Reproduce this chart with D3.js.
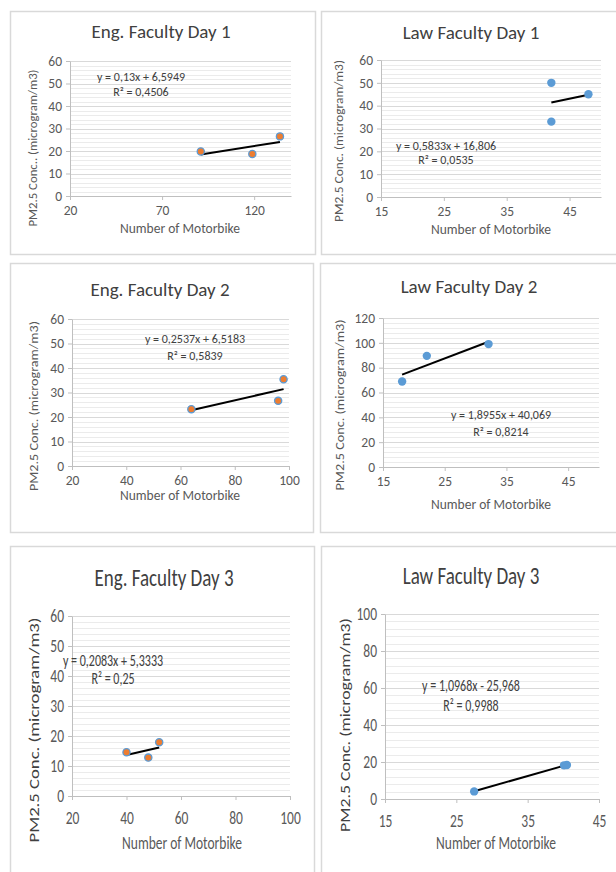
<!DOCTYPE html>
<html lang="en">
<head>
  <meta charset="utf-8">
  <title>PM2.5 Conc. vs Number of Motorbike</title>
  <style>
    body {
      margin: 0;
      background: #fff;
    }

    svg {
      display: block;
    }

    text {
      font-family: Carlito, Calibri, 'Liberation Sans', Arial, sans-serif;
    }
  </style>
</head>

<body>
  <svg id="chart" width="616" height="872"></svg>
  <script src="https://cdnjs.cloudflare.com/ajax/libs/d3/7.8.5/d3.min.js"></script>
  <script>
    //
    // Data
    //

    var titles = ['Eng. Faculty Day 1', 'Law Faculty Day 1', 'Eng. Faculty Day 2',
      'Law Faculty Day 2', 'Eng. Faculty Day 3', 'Law Faculty Day 3']

    var engDay1X = [91, 119, 134]
    var engDay1Y = [19.8, 18.7, 26.5]
    var lawDay1X = [42.1, 42.1, 48]
    var lawDay1Y = [50, 33, 45]
    var engDay2X = [64, 96, 98]
    var engDay2Y = [23.2, 26.6, 35.4]
    var lawDay2X = [18.1, 22.1, 32.1]
    var lawDay2Y = [68.8, 89.5, 99]
    var engDay3X = [40, 48, 52]
    var engDay3Y = [14.6, 12.8, 17.9]
    var lawDay3X = [27.5, 40.1, 40.5]
    var lawDay3Y = [4.1, 18.2, 18.4]

    // trendline coefficients
    var slopes = [0.13, 0.5833, 0.2537, 1.8955, 0.2083, 1.0968]
    var intercepts = [6.5949, 16.806, 6.5183, 40.069, 5.3333, -25.968]
    var equations = ['y = 0,13x + 6,5949', 'y = 0,5833x + 16,806', 'y = 0,2537x + 6,5183',
      'y = 1,8955x + 40,069', 'y = 0,2083x + 5,3333', 'y = 1,0968x - 25,968']
    var rSquared = ['R² = 0,4506', 'R² = 0,0535', 'R² = 0,5839',
      'R² = 0,8214', 'R² = 0,25', 'R² = 0,9988']

    // axes
    var xDomains = [[20, 140], [15, 50], [20, 100], [15, 50], [20, 100], [15, 45]]
    var xTicks = [[20, 70, 120], [15, 25, 35, 45], [20, 40, 60, 80, 100],
      [15, 25, 35, 45], [20, 40, 60, 80, 100], [15, 25, 35, 45]]
    var yDomains = [[0, 60], [0, 60], [0, 60], [0, 120], [0, 60], [0, 100]]
    var yTicks = [[0, 10, 20, 30, 40, 50, 60], [0, 10, 20, 30, 40, 50, 60],
      [0, 10, 20, 30, 40, 50, 60], [0, 20, 40, 60, 80, 100, 120],
      [0, 10, 20, 30, 40, 50, 60], [0, 20, 40, 60, 80, 100]]
    var yMinorStep = [2, 2, 2, 4, 2, 4]

    var xLabel = 'Number of Motorbike'
    var yLabels = ['PM2.5 Conc.. (microgram/m3)', 'PM2.5 Conc. (microgram/m3)',
      'PM2.5 Conc. (microgram/m3)', 'PM2.5 Conc. (microgram/m3)',
      'PM2.5 Conc. (microgram/m3)', 'PM2.5 Conc. (microgram/m3)']

    var series = [
      { x: engDay1X, y: engDay1Y, kind: 'eng' },
      { x: lawDay1X, y: lawDay1Y, kind: 'law' },
      { x: engDay2X, y: engDay2Y, kind: 'eng' },
      { x: lawDay2X, y: lawDay2Y, kind: 'law' },
      { x: engDay3X, y: engDay3Y, kind: 'eng' },
      { x: lawDay3X, y: lawDay3Y, kind: 'law' }
    ]

    //
    // Layout (pixels); sy = vertical stretch of the text in that row
    //

    var frames = [
      { box: [10, 11, 305, 243], plot: [70, 61, 291, 196], title: [161, 33], ylab: [34, 148, 157], xlab: [180, 230], eq: [141, 78, 93], sy: 1 },
      { box: [321, 11, 300, 243], plot: [381, 60, 601, 197], title: [471, 34], ylab: [340, 141, 162], xlab: [491, 231], eq: [446, 147, 161], sy: 1 },
      { box: [10, 263, 303, 269], plot: [72, 319, 289, 466], title: [160, 291], ylab: [35, 406, 170], xlab: [180, 497], eq: [195, 340, 357], sy: 1 },
      { box: [320, 263, 300, 269], plot: [383, 318, 599, 467], title: [469, 288], ylab: [341, 405, 171], xlab: [491, 506], eq: [501, 416, 433], sy: 1 },
      { box: [10, 546, 304, 340], plot: [72, 616, 290, 796], title: [164, 580], ylab: [35, 730, 225], xlab: [182, 845], eq: [113, 662, 680], sy: 1.3 },
      { box: [321, 546, 300, 340], plot: [385, 614, 599, 799], title: [471, 578], ylab: [346, 725, 214], xlab: [496, 845], eq: [471, 687, 707], sy: 1.3 }
    ]

    // colors
    var colorOrange = '#ED7D31'
    var colorBlue = '#5B9BD5'
    var colorAxis = '#bfbfbf'
    var colorMajor = '#d9d9d9'
    var colorMinor = '#ebebeb'
    var colorText = '#595959'
    var colorTitle = '#404040'

    var svg = d3.select('#chart')

    function label(g, px, py, txt, size, sy, color) {
      return g.append('text')
        .attr('transform', 'translate(' + px + ',' + py + ') scale(1,' + sy + ')')
        .attr('text-anchor', 'middle')
        .attr('dominant-baseline', 'middle')
        .attr('fill', color)
        .style('font-size', size + 'px')
        .text(txt)
    }

    //
    // Draw each panel
    //

    frames.forEach(function(f, i) {
      var g = svg.append('g')
      var sy = f.sy
      var s = series[i]

      g.append('rect')
        .attr('x', f.box[0] + 0.5).attr('y', f.box[1] + 0.5)
        .attr('width', f.box[2]).attr('height', f.box[3])
        .attr('fill', '#fff')
        .attr('stroke', colorMajor)
        .attr('stroke-width', 1.5)

      var x = d3.scaleLinear().domain(xDomains[i]).range([f.plot[0], f.plot[2]])
      var y = d3.scaleLinear().domain(yDomains[i]).range([f.plot[3], f.plot[1]])

      // minor gridlines
      var minor = d3.range(yDomains[i][0], yDomains[i][1] + 0.001, yMinorStep[i])
        .filter(function(v) { return yTicks[i].indexOf(v) < 0 })
      g.selectAll('.minor').data(minor).enter().append('line')
        .attr('x1', f.plot[0]).attr('x2', f.plot[2])
        .attr('y1', function(d) { return Math.round(y(d)) + 0.5 })
        .attr('y2', function(d) { return Math.round(y(d)) + 0.5 })
        .attr('stroke', colorMinor)

      // major gridlines
      g.selectAll('.major').data(yTicks[i].slice(1)).enter().append('line')
        .attr('x1', f.plot[0]).attr('x2', f.plot[2])
        .attr('y1', function(d) { return Math.round(y(d)) + 0.5 })
        .attr('y2', function(d) { return Math.round(y(d)) + 0.5 })
        .attr('stroke', colorMajor)

      // axes
      var yAxis = g.append('g')
        .attr('transform', 'translate(' + f.plot[0] + ',0)')
        .call(d3.axisLeft(y).tickValues(yTicks[i]).tickSize(4).tickSizeOuter(0).tickPadding(4))
      var xAxis = g.append('g')
        .attr('transform', 'translate(0,' + f.plot[3] + ')')
        .call(d3.axisBottom(x).tickValues(xTicks[i]).tickSize(4).tickSizeOuter(0).tickPadding(4))

      ;[yAxis, xAxis].forEach(function(a) {
        a.select('.domain').attr('stroke', colorAxis)
        a.selectAll('.tick line').attr('stroke', colorAxis)
        a.selectAll('.tick text')
          .attr('fill', colorText)
          .style('font-size', '13.5px')
      })
      yAxis.selectAll('.tick text').attr('transform', 'scale(1,' + sy + ')')
      xAxis.selectAll('.tick text').attr('transform', 'scale(1,' + sy + ')')
        .attr('y', sy > 1 ? 12 : 9)

      // trendline
      var x0 = d3.min(s.x)
      var x1 = d3.max(s.x)
      g.append('line')
        .attr('x1', x(x0)).attr('y1', y(slopes[i] * x0 + intercepts[i]))
        .attr('x2', x(x1)).attr('y2', y(slopes[i] * x1 + intercepts[i]))
        .attr('stroke', '#000')
        .attr('stroke-width', 2)

      // points
      g.selectAll('.pt').data(s.x).enter().append('circle')
        .attr('cx', function(d) { return x(d) })
        .attr('cy', function(d, j) { return y(s.y[j]) })
        .attr('r', s.kind === 'eng' ? 3.6 : 4.2)
        .attr('fill', s.kind === 'eng' ? colorOrange : colorBlue)
        .attr('stroke', s.kind === 'eng' ? colorBlue : 'none')
        .attr('stroke-width', 1.3)

      // equation
      label(g, f.eq[0], f.eq[1], equations[i], 12, sy, '#404040')
      label(g, f.eq[0], f.eq[2], rSquared[i], 12, sy, '#404040')

      // titles
      label(g, f.title[0], f.title[1], titles[i], 19, sy, colorTitle)
      label(g, f.xlab[0], f.xlab[1], xLabel, 13.5, sy, colorText)

      g.append('text')
        .attr('transform', 'translate(' + f.ylab[0] + ',' + f.ylab[1] + ') rotate(-90)')
        .attr('text-anchor', 'middle')
        .attr('dominant-baseline', 'middle')
        .attr('fill', sy > 1 ? '#404040' : colorText)
        .attr('textLength', f.ylab[2])
        .attr('lengthAdjust', 'spacingAndGlyphs')
        .style('font-size', (sy > 1 ? 15 : 13) + 'px')
        .text(yLabels[i])
    })
  </script>
</body>

</html>
